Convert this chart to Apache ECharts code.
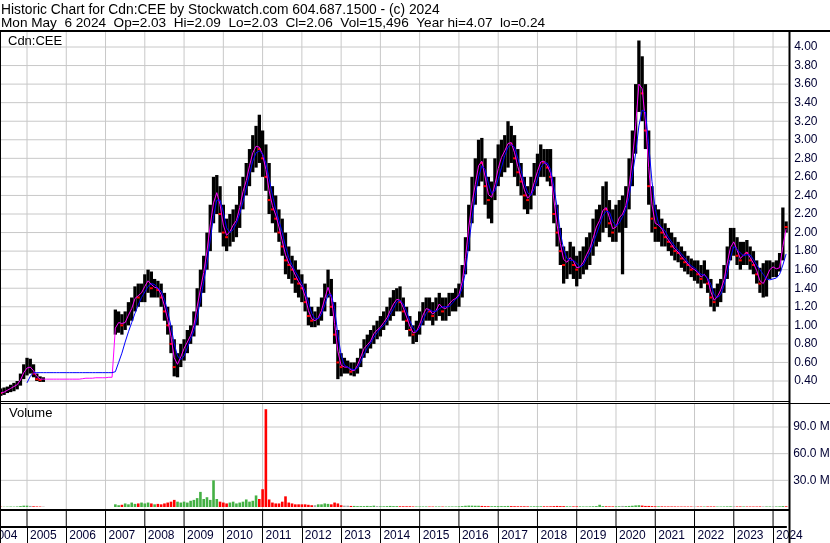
<!DOCTYPE html>
<html><head><meta charset="utf-8">
<script src="https://cdn.jsdelivr.net/npm/echarts@6/dist/echarts.min.js"></script>
<style>html,body{margin:0;padding:0;background:#fff}#c{width:830px;height:543px}</style>
</head><body><div id="c"></div>
<script>
// ---- tick labels / categories (months Jan 2004 .. May 2024) ----
const years = [2004,2005,2006,2007,2008,2009,2010,2011,2012,2013,2014,2015,2016,2017,2018,2019,2020,2021,2022,2023,2024];
const monthNames = ['01','02','03','04','05','06','07','08','09','10','11','12'];
const categories = [];
years.forEach(y => monthNames.forEach(m => { if (!(y === 2024 && +m > 5)) categories.push(y + '-' + m); }));
const priceTickValues = [0.4,0.6,0.8,1.0,1.2,1.4,1.6,1.8,2.0,2.2,2.4,2.6,2.8,3.0,3.2,3.4,3.6,3.8,4.0];
const volTickValues = [30,60,90];
const N = null;

// ---- monthly high ----
const hi = [
 N,N,N,.30,.32,.33,.34,.36,.38,.40,.48,.58,
 .65,.64,.58,.48,.45,.44,N,N,N,N,N,N,
 N,N,N,N,N,N,N,N,N,N,N,N,
 N,N,N,1.17,1.15,1.12,1.15,1.25,1.30,1.42,1.45,1.45,
 1.55,1.60,1.58,1.50,1.48,1.45,1.35,1.20,1.00,0.85,0.70,0.80,
 .85,.95,1.0,1.15,1.4,1.6,1.75,2.0,2.3,2.6,2.62,2.5,
 2.3,2.15,2.2,2.25,2.3,2.5,2.6,2.75,2.9,3.05,3.15,3.27,
 3.1,2.95,2.75,2.5,2.4,2.25,2.15,2.0,1.85,1.75,1.7,1.6,
 1.55,1.45,1.3,1.2,1.15,1.2,1.3,1.45,1.6,1.5,1.25,0.95,
 .7,.65,.62,.6,.6,.65,.75,.85,.9,.95,1.0,1.05,
 1.1,1.15,1.2,1.3,1.38,1.4,1.42,1.3,1.2,1.1,1.0,1.05,
 1.15,1.25,1.3,1.3,1.25,1.3,1.35,1.3,1.3,1.35,1.35,1.4,
 1.45,1.65,1.95,2.3,2.6,2.8,3.0,3.02,2.8,2.6,2.55,2.8,
 2.95,3.0,3.05,3.2,3.15,3.05,2.9,2.75,2.6,2.5,2.6,2.75,
 2.85,2.95,2.9,2.9,2.9,2.6,2.3,2.05,1.85,1.8,1.9,1.85,
 1.75,1.8,1.85,1.95,2.0,2.15,2.25,2.3,2.5,2.55,2.35,2.25,
 2.3,2.35,2.4,2.5,2.8,3.1,3.6,4.07,3.9,3.6,3.1,2.5,
 2.3,2.25,2.15,2.1,2.05,2.0,1.95,1.9,1.85,1.8,1.75,1.72,
 1.7,1.7,1.65,1.7,1.6,1.5,1.4,1.45,1.5,1.65,1.85,2.05,
 2.05,1.95,1.9,1.9,1.92,1.85,1.8,1.7,1.62,1.67,1.7,1.7,
 1.68,1.7,1.78,2.27,2.12
];
// ---- monthly low ----
const lo = [
 N,N,N,.25,.24,.25,.27,.28,.29,.31,.35,.42,
 .46,.48,.44,.40,.39,.39,N,N,N,N,N,N,
 N,N,N,N,N,N,N,N,N,N,N,N,
 N,N,N,.90,.92,.90,.95,1.0,1.05,1.15,1.2,1.25,
 1.25,1.35,1.3,1.3,1.3,1.2,1.05,.9,.7,.45,.44,.55,
 .62,.7,.8,.88,1.0,1.2,1.35,1.6,1.8,2.1,2.2,2.0,
 1.85,1.8,1.85,1.9,1.95,2.05,2.25,2.4,2.5,2.65,2.7,2.75,
 2.6,2.45,2.2,2.1,2.0,1.9,1.75,1.55,1.5,1.45,1.35,1.3,
 1.25,1.15,1.0,.98,.98,1.0,1.05,1.15,1.3,1.1,.8,.42,
 .45,.48,.48,.46,.45,.48,.55,.65,.7,.75,.8,.85,
 .88,.95,1.0,1.05,1.1,1.15,1.15,1.05,.95,.88,.8,.82,
 .9,1.0,1.05,1.05,1.0,1.05,1.1,1.05,1.05,1.1,1.15,1.15,
 1.2,1.3,1.55,1.8,2.1,2.3,2.5,2.55,2.3,2.15,2.1,2.35,
 2.5,2.6,2.65,2.7,2.75,2.6,2.5,2.4,2.25,2.2,2.25,2.4,
 2.5,2.6,2.6,2.55,2.5,2.1,1.85,1.65,1.45,1.5,1.55,1.5,
 1.42,1.5,1.55,1.6,1.65,1.75,1.85,1.9,2.0,2.05,1.95,1.9,
 1.9,2.0,1.55,2.05,2.25,2.5,2.85,3.3,3.2,2.9,2.3,2.0,
 1.9,1.9,1.85,1.85,1.8,1.75,1.7,1.68,1.62,1.58,1.55,1.52,
 1.48,1.45,1.4,1.45,1.35,1.2,1.15,1.2,1.25,1.35,1.5,1.7,
 1.75,1.65,1.6,1.65,1.65,1.6,1.55,1.45,1.35,1.30,1.31,1.5,
 1.52,1.52,1.58,1.7,2.0
];
// ---- monthly close ----
const cl = [
 N,N,N,.28,.27,.29,.31,.33,.35,.37,.45,.52,
 .55,.55,.48,.42,.41,.41,N,N,N,N,N,N,
 N,N,N,N,N,N,N,N,N,N,N,N,
 N,N,N,1.0,1.05,1.0,1.05,1.15,1.2,1.35,1.3,1.38,
 1.45,1.5,1.4,1.42,1.38,1.3,1.15,1.0,.8,.55,.6,.7,
 .78,.85,.92,1.05,1.3,1.45,1.65,1.9,2.2,2.4,2.45,2.2,
 2.0,1.95,2.05,2.1,2.15,2.35,2.5,2.6,2.8,2.9,2.95,2.9,
 2.8,2.6,2.35,2.25,2.15,2.0,1.85,1.7,1.65,1.6,1.5,1.45,
 1.4,1.25,1.1,1.05,1.05,1.1,1.2,1.35,1.45,1.2,.9,.6,
 .55,.55,.55,.5,.52,.6,.7,.78,.8,.85,.95,.95,
 1.0,1.05,1.1,1.2,1.25,1.3,1.25,1.15,1.05,.95,.9,.95,
 1.05,1.15,1.2,1.15,1.1,1.2,1.25,1.15,1.2,1.25,1.28,1.3,
 1.35,1.55,1.85,2.2,2.4,2.6,2.8,2.75,2.5,2.35,2.4,2.6,
 2.75,2.85,2.9,3.0,2.95,2.8,2.65,2.55,2.4,2.35,2.45,2.6,
 2.7,2.8,2.75,2.7,2.6,2.2,2.0,1.8,1.65,1.7,1.75,1.65,
 1.6,1.65,1.7,1.8,1.85,2.0,2.1,2.15,2.3,2.25,2.1,2.0,
 2.1,2.2,2.2,2.35,2.6,2.9,3.4,3.7,3.5,3.1,2.5,2.15,
 2.05,2.1,2.0,1.95,1.9,1.85,1.8,1.78,1.72,1.68,1.65,1.6,
 1.6,1.55,1.5,1.58,1.45,1.3,1.25,1.35,1.4,1.55,1.75,1.9,
 1.9,1.75,1.7,1.8,1.78,1.7,1.65,1.55,1.45,1.45,1.55,1.6,
 1.6,1.62,1.72,2.1,2.06
];
// ---- short moving average (magenta) ----
const maFast = [
 N,N,N,N,.27,.28,.30,.32,.34,.36,.41,.49,
 .54,.55,.51,.45,.42,.42,.42,.42,.42,.42,.42,.42,
 .42,.42,.42,.42,.42,.425,.43,.43,.43,.435,.435,.435,
 .435,.44,.44,.97,1.03,1.02,1.03,1.11,1.18,1.29,1.32,1.35,
 1.42,1.48,1.44,1.41,1.40,1.33,1.21,1.06,.88,.65,.58,.66,
 .75,.82,.89,1.0,1.2,1.39,1.57,1.8,2.08,2.32,2.43,2.3,
 2.08,1.97,2.01,2.08,2.13,2.27,2.44,2.56,2.72,2.86,2.93,2.92,
 2.84,2.68,2.45,2.29,2.19,2.06,1.91,1.76,1.67,1.62,1.54,1.47,
 1.42,1.31,1.16,1.07,1.05,1.08,1.16,1.29,1.41,1.3,1.02,.72,
 .57,.55,.55,.52,.51,.57,.66,.75,.79,.83,.91,.95,
 .98,1.03,1.08,1.16,1.23,1.28,1.27,1.19,1.09,.99,.92,.93,
 1.01,1.11,1.18,1.17,1.12,1.16,1.23,1.19,1.18,1.23,1.27,1.29,
 1.33,1.47,1.73,2.06,2.32,2.52,2.72,2.77,2.6,2.41,2.38,2.52,
 2.69,2.81,2.88,2.96,2.97,2.86,2.71,2.59,2.46,2.37,2.41,2.54,
 2.66,2.76,2.77,2.72,2.64,2.36,2.08,1.88,1.71,1.68,1.73,1.69,
 1.62,1.63,1.68,1.76,1.83,1.94,2.06,2.13,2.24,2.27,2.16,2.04,
 2.06,2.16,2.2,2.29,2.5,2.78,3.15,3.6,3.55,3.2,2.7,2.3,
 2.1,2.08,2.04,1.97,1.92,1.87,1.82,1.79,1.74,1.7,1.66,1.62,
 1.6,1.57,1.52,1.55,1.5,1.36,1.27,1.31,1.38,1.49,1.67,1.84,
 1.9,1.81,1.72,1.76,1.79,1.73,1.67,1.59,1.48,1.45,1.52,1.6,
 1.63,1.61,1.62,1.85,2.04
];
// ---- long moving average (blue) ----
const maSlow = [
 N,N,N,N,N,N,N,N,N,N,N,N,
 .38,.45,.49,.49,.49,.49,.49,.49,.49,.49,.49,.49,
 .49,.49,.49,.49,.49,.49,.49,.49,.49,.49,.49,.49,
 .49,.49,.49,.50,.60,.70,.82,.93,1.03,1.13,1.22,1.30,
 1.36,1.42,1.45,1.44,1.40,1.37,1.28,1.15,.99,.80,.67,.63,
 .67,.76,.85,.94,1.09,1.27,1.47,1.67,1.92,2.17,2.35,2.35,
 2.22,2.05,2.0,2.03,2.1,2.2,2.33,2.48,2.63,2.77,2.86,2.88,
 2.85,2.75,2.58,2.4,2.25,2.13,2.0,1.85,1.73,1.65,1.58,1.52,
 1.45,1.37,1.25,1.13,1.07,1.07,1.12,1.22,1.33,1.33,1.18,.9,
 .68,.57,.55,.53,.52,.54,.61,.69,.76,.81,.87,.92,
 .97,1.0,1.05,1.12,1.18,1.25,1.27,1.23,1.15,1.05,.97,.93,
 .97,1.05,1.13,1.17,1.15,1.15,1.18,1.2,1.2,1.2,1.24,1.28,
 1.31,1.4,1.58,1.87,2.15,2.4,2.6,2.72,2.68,2.53,2.42,2.45,
 2.58,2.7,2.83,2.92,2.95,2.92,2.8,2.67,2.53,2.43,2.4,2.47,
 2.58,2.7,2.75,2.75,2.68,2.5,2.27,2.0,1.82,1.72,1.7,1.7,
 1.67,1.63,1.65,1.72,1.78,1.88,1.98,2.08,2.18,2.23,2.22,2.12,
 2.07,2.1,2.17,2.25,2.38,2.62,2.85,3.15,3.32,3.3,2.95,2.55,
 2.25,2.1,2.05,2.02,1.95,1.9,1.85,1.81,1.77,1.73,1.68,1.64,
 1.62,1.58,1.55,1.54,1.51,1.44,1.33,1.3,1.33,1.43,1.57,1.73,
 1.85,1.82,1.78,1.75,1.76,1.76,1.71,1.65,1.6,1.55,1.5,1.49,
 1.5,1.51,1.55,1.65,1.77
];
// ---- volume, millions of shares ----
const vol = [
 N,N,N,.5,.4,.3,.4,.5,.4,.6,1.0,1.5,
 1.5,1.2,.8,.6,.5,.4,N,N,N,N,N,N,
 N,N,N,N,N,N,N,N,N,N,N,N,
 N,N,N,3,2,2.5,4,3,5,3.5,4,5,
 4,5,4,3,3.5,3,4,5,6,8,6,5,
 6,5,7,8,10,17,9,11,8,30,9,6,
 5,4,5,6,4,5,6,8.5,6,7,13,9,
 20,110,8.5,5,4,4,6,12,5,4,3,3,
 3,3,2.5,2,2,3,3,4,3.5,3,5,4,
 2,1.5,1.5,1.2,1.2,1,1,1,1.2,1,1.5,1,
 .8,.8,1,1.2,1,1,.8,.8,.8,.8,.6,.6,
 .6,.6,.6,.5,.5,.6,.6,.5,.5,.6,.6,.6,
 .8,1,1.4,1.6,1.5,1.4,1.4,1.2,1,.9,.9,1,
 1,1,1,1.2,1,.9,.8,.8,.8,.7,.7,.8,
 .8,.8,.8,.7,.8,1,1.2,1,1,.8,.7,.7,
 .7,.7,.6,.6,.7,.8,1,2.5,1,.8,.7,.7,
 .8,.8,1.2,1,1.2,1.4,1.8,2,1.6,1.2,1.2,1,
 .8,.8,.7,.6,.6,.6,.6,.5,.5,.5,.5,.5,
 .5,.5,.5,.5,.6,.6,.6,.5,.5,.6,.7,.8,
 .7,.6,.6,.6,.5,.5,.5,.5,.6,.6,.6,.6,
 .6,.6,.7,1,.8
];
const headerLine1 = 'Historic Chart for Cdn:CEE by Stockwatch.com 604.687.1500 - (c) 2024';
const headerLine2 = 'Mon May  6 2024  Op=2.03  Hi=2.09  Lo=2.03  Cl=2.06  Vol=15,496  Year hi=4.07  lo=0.24';

// ---- build library inputs ----
let prevClose = null;
const ohlc = [];
const volData = [];
for (let i = 0; i < categories.length; i++) {
  let dir = 0;
  if (cl[i] != null) {
    if (prevClose != null) dir = cl[i] > prevClose ? 1 : (cl[i] < prevClose ? -1 : 0);
    ohlc.push([i, hi[i], lo[i], cl[i], dir]);
    prevClose = cl[i];
  }
  volData.push(vol[i] == null ? null : {value: vol[i], itemStyle: {color: dir > 0 ? '#44b044' : (dir < 0 ? '#ff0000' : '#a0a0a0')}});
}
const yearStartIdx = [];
categories.forEach((c, i) => { if (c.endsWith('-01')) yearStartIdx.push(i); });
const LAST = categories.length - 1;

const FONT = '"Liberation Sans", Arial, sans-serif';
const LBL = '#000033';
const GRID_GRAY = '#c8c8c8';
const isJan = (idx, v) => String(v).endsWith('-01');
const GL = -12.26, GR = 43.86;
const ZG = 50, ZS = 60;
function gridAxis(g, extra) {
  return Object.assign({type: 'category', gridIndex: g, data: categories, boundaryGap: false,
    axisLine: {show: false}, axisTick: {show: false}, axisLabel: {show: false}, splitLine: {show: false}}, extra || {});
}
// hidden value axes mirroring the month index, used only to place grid lines
const idxAxis = g => ({type: 'value', gridIndex: g, min: 0, max: LAST, show: false});

// grid-line segments as plain line series (same drawing path as the moving averages)
function seg(xi, yi, a, b, color) {
  return {type: 'line', xAxisIndex: xi, yAxisIndex: yi, data: [a, b], symbol: 'none', showSymbol: false,
    silent: true, clip: false, z: ZG, animation: false, lineStyle: {color: color, width: 1}};
}
const gridSeries = [];
priceTickValues.forEach(v => gridSeries.push(seg(3, 0, [-4, v], [LAST + 1, v], GRID_GRAY)));
volTickValues.forEach(v => gridSeries.push(seg(4, 1, [-4, v], [LAST + 1, v], GRID_GRAY)));
yearStartIdx.forEach(i => {
  gridSeries.push(seg(3, 0, [i, 0.19], [i, 4.16], GRID_GRAY));   // price pane, frame to frame
  gridSeries.push(seg(4, 1, [i, -2.3], [i, 116], GRID_GRAY));    // volume pane
  gridSeries.push(seg(5, 2, [i, 0], [i, 0.9], '#000'));          // date row divider
});

const titleStyle = {fontFamily: FONT, fontWeight: 'normal', color: '#000', lineHeight: 13};
const frame = [
  {type: 'rect', z: 100, shape: {x: 0, y: 30, width: 830, height: 2}, style: {fill: '#000'}},
  {type: 'rect', z: 100, shape: {x: 788.5, y: 30, width: 2, height: 513}, style: {fill: '#000'}},
  {type: 'rect', z: 100, shape: {x: 0, y: 401, width: 789, height: 1}, style: {fill: '#000'}},
  {type: 'rect', z: 100, shape: {x: 0, y: 403, width: 830, height: 1}, style: {fill: '#000'}},
  {type: 'rect', z: 100, shape: {x: 0, y: 509, width: 789, height: 2}, style: {fill: '#000'}},
  {type: 'rect', z: 100, shape: {x: 0, y: 30, width: 1, height: 513}, style: {fill: '#000'}}
];

const chart = echarts.init(document.getElementById('c'), null, {renderer: 'canvas'});
chart.setOption({
  animation: false,
  backgroundColor: '#ffffff',
  title: [
    {text: headerLine1, left: 1, top: 4, padding: 0, z: 90, textStyle: Object.assign({fontSize: 13.8}, titleStyle)},
    {text: headerLine2, left: 1, top: 17, padding: 0, z: 90, textStyle: Object.assign({fontSize: 13.6}, titleStyle)},
    {text: 'Cdn:CEE', left: 8, top: 35, padding: 0, z: 90, textStyle: Object.assign({fontSize: 13}, titleStyle)},
    {text: 'Volume', left: 9, top: 407, padding: 0, z: 90, textStyle: Object.assign({fontSize: 13}, titleStyle)}
  ],
  grid: [
    {left: GL, right: GR, top: 47, bottom: 162},      // 0 price
    {left: GL, right: GR, top: 427, bottom: 36},      // 1 volume
    {left: GL, right: GR, top: 509, bottom: 16}       // 2 date axis rows
  ].map(g => Object.assign({show: false, outerBoundsMode: 'none', containLabel: false}, g)),
  xAxis: [
    gridAxis(0), gridAxis(1),
    gridAxis(2, {position: 'bottom',
      axisLine: {show: true, onZero: false, lineStyle: {color: '#000', width: 2}},
      axisTick: {show: true, interval: isJan, length: 16, inside: false, lineStyle: {color: '#000', width: 1}},
      axisLabel: {show: true, interval: isJan, formatter: v => v.slice(0, 4), align: 'left', margin: 3,
        padding: [0, 0, 0, 3], fontFamily: FONT, fontSize: 12, color: LBL}}),
    idxAxis(0), idxAxis(1), idxAxis(2)
  ],
  yAxis: [
    {type: 'value', gridIndex: 0, position: 'right', min: 0.4, max: 4.0, interval: 0.2,
     axisLine: {show: false}, splitLine: {show: false}, axisTick: {show: false},
     axisLabel: {margin: 8, formatter: v => v.toFixed(2), fontFamily: FONT, fontSize: 12, color: LBL}},
    {type: 'value', gridIndex: 1, position: 'right', min: 0, max: 90, interval: 30,
     axisLine: {show: false}, splitLine: {show: false}, axisTick: {show: false},
     axisLabel: {showMinLabel: false, margin: 7, formatter: v => v.toFixed(1) + ' M', fontFamily: FONT, fontSize: 12, color: LBL}},
    {type: 'value', gridIndex: 2, show: false, min: 0, max: 1}
  ],
  series: gridSeries.concat([
    {
      type: 'custom', xAxisIndex: 0, yAxisIndex: 0, data: ohlc, encode: {x: 0, y: [1, 2, 3]}, z: ZS, clip: false,
      renderItem: function (params, api) {
        const i = api.value(0);
        const t = api.coord([i, api.value(1)]);
        const b = api.coord([i, api.value(2)]);
        const c = api.coord([i, api.value(3)]);
        const w = 3.3;
        const kids = [{type: 'rect', shape: {x: t[0] - w / 2, y: t[1], width: w, height: Math.max(1, b[1] - t[1])}, style: {fill: '#000'}}];
        if (api.value(4) < 0) kids.push({type: 'rect', shape: {x: c[0] - 1.5, y: c[1] - 1, width: 3, height: 2}, style: {fill: '#ff0000'}});
        return {type: 'group', children: kids};
      }
    },
    {type: 'line', xAxisIndex: 0, yAxisIndex: 0, data: maFast, showSymbol: false, symbol: 'none', connectNulls: true, z: ZS + 1, clip: false,
     lineStyle: {color: '#ff00ff', width: 1}},
    {type: 'line', xAxisIndex: 0, yAxisIndex: 0, data: maSlow, showSymbol: false, symbol: 'none', connectNulls: true, z: ZS + 2, clip: false,
     lineStyle: {color: '#0000ff', width: 1}},
    {type: 'bar', xAxisIndex: 1, yAxisIndex: 1, data: volData, barWidth: 2.6, z: ZS, clip: false}
  ]),
  graphic: frame
});
</script></body></html>
